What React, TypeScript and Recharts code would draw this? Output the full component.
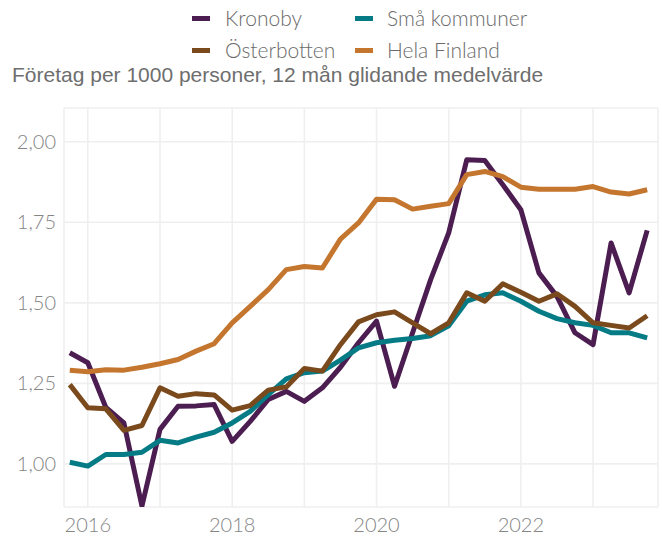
import { LineChart, Line, XAxis, YAxis, CartesianGrid } from "recharts";

const quarters = [
  2015.75, 2016, 2016.25, 2016.5, 2016.75, 2017, 2017.25, 2017.5, 2017.75,
  2018, 2018.25, 2018.5, 2018.75, 2019, 2019.25, 2019.5, 2019.75,
  2020, 2020.25, 2020.5, 2020.75, 2021, 2021.25, 2021.5, 2021.75,
  2022, 2022.25, 2022.5, 2022.75, 2023, 2023.25, 2023.5, 2023.75,
];

const kronoby = [
  1.345, 1.314, 1.175, 1.127, 0.869, 1.107, 1.179, 1.18, 1.184,
  1.07, 1.132, 1.2, 1.225, 1.194, 1.236, 1.3, 1.376,
  1.443, 1.241, 1.407, 1.572, 1.717, 1.944, 1.942, 1.867,
  1.789, 1.593, 1.52, 1.407, 1.37, 1.686, 1.531, 1.725,
];

const osterbotten = [
  1.246, 1.174, 1.171, 1.104, 1.119, 1.236, 1.21, 1.218, 1.214,
  1.167, 1.181, 1.229, 1.239, 1.296, 1.288, 1.37, 1.441,
  1.463, 1.472, 1.438, 1.404, 1.438, 1.531, 1.505, 1.559,
  1.533, 1.505, 1.528, 1.489, 1.438, 1.43, 1.422, 1.46,
];

const smaKommuner = [
  1.005, 0.993, 1.029, 1.029, 1.036, 1.073, 1.065, 1.083, 1.098,
  1.127, 1.163, 1.215, 1.264, 1.283, 1.288, 1.322, 1.36,
  1.376, 1.384, 1.389, 1.398, 1.429, 1.505, 1.525, 1.531,
  1.505, 1.474, 1.451, 1.438, 1.43, 1.407, 1.407, 1.391,
];

const helaFinland = [
  1.291, 1.286, 1.292, 1.291, 1.3, 1.311, 1.324, 1.35, 1.373,
  1.438, 1.489, 1.541, 1.603, 1.613, 1.608, 1.698, 1.748,
  1.822, 1.82, 1.791, 1.8, 1.808, 1.898, 1.908, 1.892,
  1.859, 1.853, 1.853, 1.853, 1.861, 1.844, 1.838, 1.851,
];

const yearTicks = [2016, 2017, 2018, 2019, 2020, 2021, 2022, 2023];
const valueTicks = [1, 1.25, 1.5, 1.75, 2];

const series = [
  { key: "kronoby", name: "Kronoby", color: "#4b1d50" },
  { key: "smaKommuner", name: "Små kommuner", color: "#057b86" },
  { key: "osterbotten", name: "Österbotten", color: "#7a4a1d" },
  { key: "helaFinland", name: "Hela Finland", color: "#c4762f" },
];

const data = quarters.map((q, i) => ({
  t: q,
  kronoby: kronoby[i],
  osterbotten: osterbotten[i],
  smaKommuner: smaKommuner[i],
  helaFinland: helaFinland[i],
}));

const tickFont = "Lato, 'Noto Sans', sans-serif";

function YearTick({ x, y, payload }: any) {
  if (payload.value % 2 !== 0) return null;
  return (
    <text x={x} y={y} dy={17} textAnchor="middle" fill="#858585" fontSize={20} fontWeight={300} fontFamily={tickFont}>
      {payload.value}
    </text>
  );
}

function ValueTick({ x, y, payload }: any) {
  return (
    <text x={x} y={y} dy={7} textAnchor="end" fill="#858585" fontSize={20} fontWeight={300} fontFamily={tickFont}>
      {payload.value.toFixed(2).replace(".", ",")}
    </text>
  );
}

export default function App() {
  // legend laid out like ggplot: two columns, filled column-wise
  const legendRows = [
    [series[0], series[1]],
    [series[2], series[3]],
  ];
  return (
    <div style={{ position: "absolute", left: 0, top: 0, width: 662, height: 538, background: "#fff" }}>
      <svg width={662} height={100} style={{ position: "absolute", left: 0, top: 0 }}>
        {legendRows.map((row, r) =>
          row.map((s, c) => (
            <g key={s.key}>
              <rect x={192 + c * 163} y={16 + r * 32} width={18} height={5} fill={s.color} />
              <text x={225 + c * 162} y={26 + r * 32} fill="#6b6b6b" fontSize={21} fontWeight={300} fontFamily={tickFont}>
                {s.name}
              </text>
            </g>
          ))
        )}
        <text x={12} y={82} fill="#6e6e6e" fontSize={21} fontFamily="'Liberation Sans', Arial, sans-serif">
          Företag per 1000 personer, 12 mån glidande medelvärde
        </text>
      </svg>
      <LineChart
        width={662}
        height={538}
        data={data}
        margin={{ top: 108, right: 4, bottom: 0, left: 0 }}
        style={{ position: "absolute", left: 0, top: 0 }}
      >
        <CartesianGrid stroke="#efefef" strokeWidth={1.6} />
        <XAxis
          dataKey="t"
          type="number"
          domain={[2015.67, 2023.9]}
          ticks={yearTicks}
          allowDataOverflow
          axisLine={false}
          tickLine={false}
          height={31}
          tick={<YearTick />}
        />
        <YAxis
          type="number"
          domain={[0.866, 2.105]}
          ticks={valueTicks}
          allowDataOverflow
          axisLine={false}
          tickLine={false}
          width={64}
          tick={<ValueTick />}
        />
        {series.map((s) => (
          <Line
            key={s.key}
            dataKey={s.key}
            name={s.name}
            stroke={s.color}
            strokeWidth={5}
            dot={false}
            type="linear"
            strokeLinejoin="round"
            isAnimationActive={false}
          />
        ))}
      </LineChart>
    </div>
  );
}
